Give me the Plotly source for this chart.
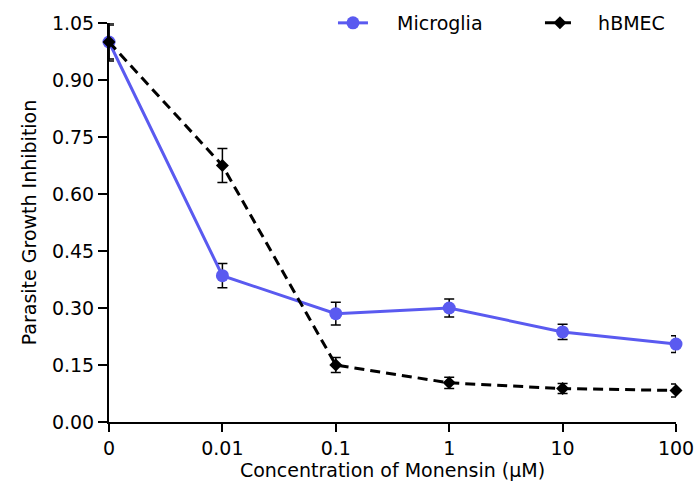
import plotly.graph_objects as go

categories = ["0", "0.01", "0.1", "1", "10", "100"]
microglia = [1.0, 0.385, 0.285, 0.300, 0.237, 0.205]
microglia_err = [0.045, 0.032, 0.030, 0.024, 0.020, 0.022]
hbmec = [1.0, 0.675, 0.150, 0.103, 0.088, 0.083]
hbmec_err = [0.05, 0.045, 0.020, 0.015, 0.013, 0.017]
y_ticks = [0.0, 0.15, 0.30, 0.45, 0.60, 0.75, 0.90, 1.05]

xpos = list(range(len(categories)))
font = "DejaVu Sans, Verdana, sans-serif"

fig = go.Figure()
fig.add_trace(go.Scatter(
    x=xpos, y=microglia, name="\u00a0" * 4 + "Microglia", mode="lines+markers",
    line=dict(color="#5a5af0", width=3),
    marker=dict(symbol="circle", size=13, color="#5a5af0"),
    error_y=dict(type="data", array=microglia_err, color="black", thickness=1.5, width=5),
    cliponaxis=False,
))
fig.add_trace(go.Scatter(
    x=xpos, y=hbmec, name="\u00a0" * 3 + "hBMEC", mode="lines+markers",
    line=dict(color="black", width=3, dash="10px,6px"),
    marker=dict(symbol="diamond", size=10, color="black"),
    error_y=dict(type="data", array=hbmec_err, color="black", thickness=1.5, width=5),
    cliponaxis=False,
))

fig.update_layout(
    width=694, height=490,
    margin=dict(l=109, r=18, t=23, b=68, autoexpand=False),
    plot_bgcolor="white", paper_bgcolor="white",
    font=dict(family=font, color="black", size=19),
    showlegend=True,
    legend=dict(orientation="h", x=0.395, xanchor="left", y=1.0, yanchor="middle",
                font=dict(size=19), bgcolor="rgba(0,0,0,0)",
                entrywidth=162, entrywidthmode="pixels",
                traceorder="normal"),
    xaxis=dict(
        range=[0, 5], tickmode="array", tickvals=xpos, ticktext=categories,
        showline=True, linecolor="black", linewidth=2, ticks="outside",
        ticklen=8, tickwidth=2, tickcolor="black", showgrid=False, zeroline=False,
        ticklabeloverflow="allow",
        title=dict(text="Concentration of Monensin (μM)", font=dict(size=19), standoff=4),
        tickfont=dict(size=19),
    ),
    yaxis=dict(
        range=[0, 1.05], tickmode="array", tickvals=y_ticks,
        ticktext=[f"{v:.2f}" for v in y_ticks],
        showline=True, linecolor="black", linewidth=2, ticks="outside",
        ticklen=9, tickwidth=2, tickcolor="black", showgrid=False, zeroline=False,
        ticklabeloverflow="allow",
        title=dict(text="Parasite Growth Inhibition", font=dict(size=19), standoff=10),
        tickfont=dict(size=19),
    ),
)

fig.write_html("out.html", config={"displayModeBar": False})
with open("out.html", "r", encoding="utf-8") as f:
    html = f.read()
html = html.replace("<head>", "<head><style>html,body{margin:0;padding:0;}</style>", 1)
with open("out.html", "w", encoding="utf-8") as f:
    f.write(html)
